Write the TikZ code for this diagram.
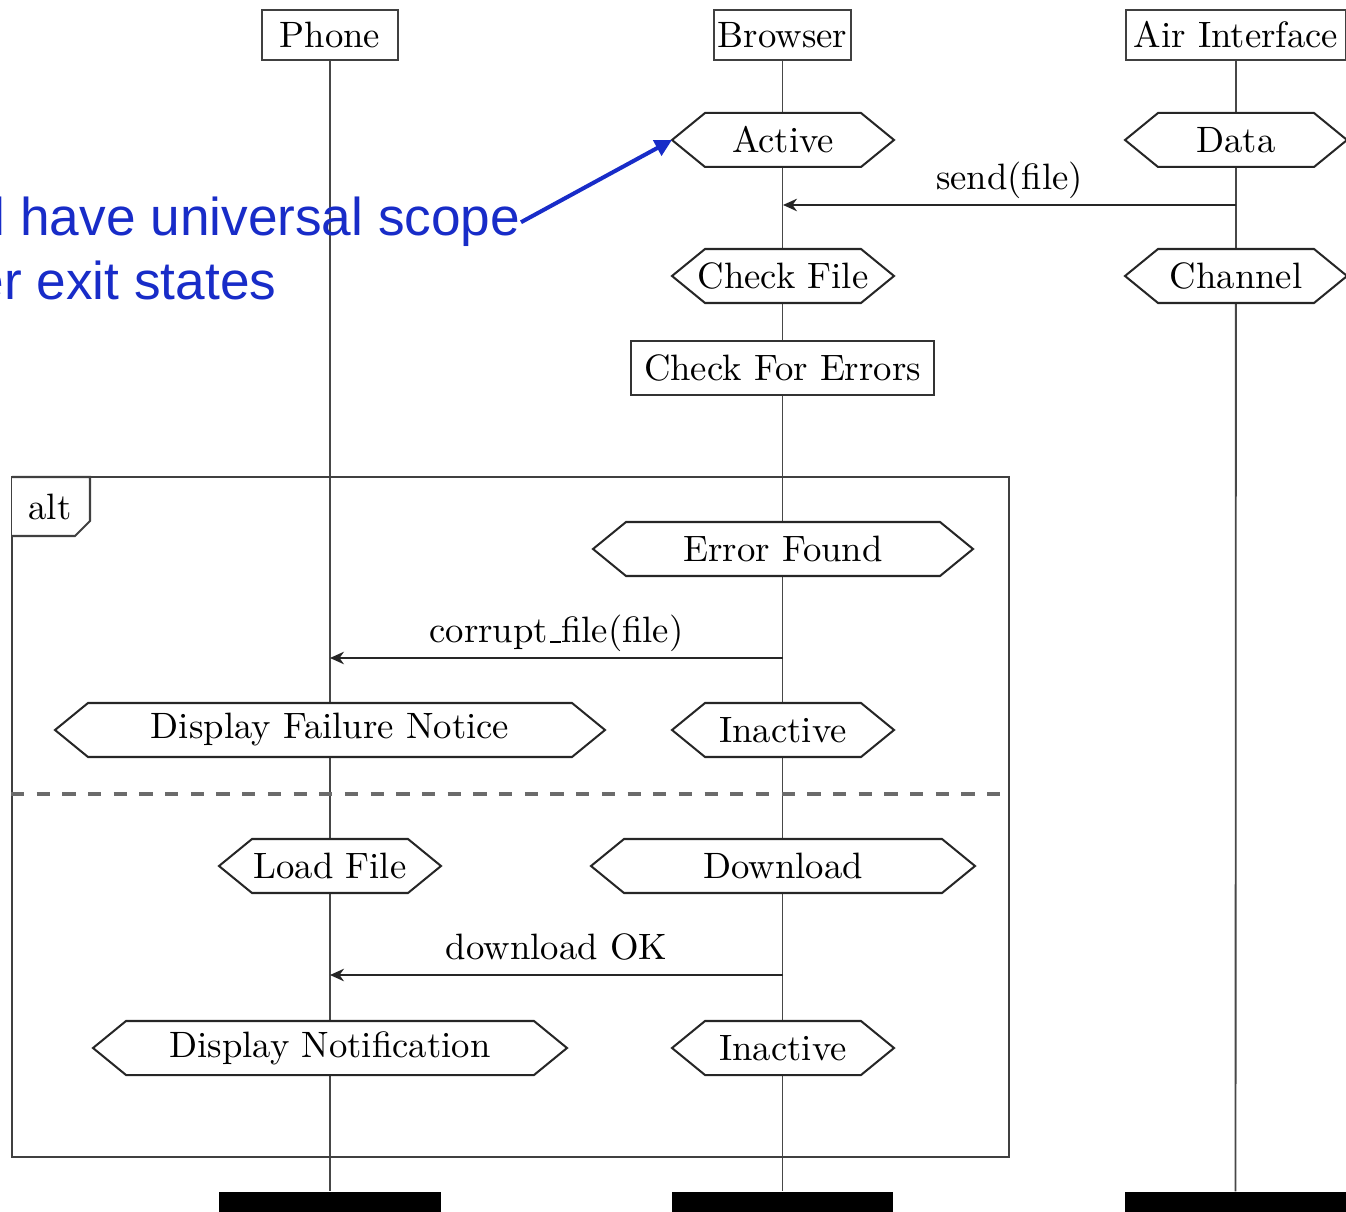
\documentclass[tikz,border=0pt]{standalone}
\usepackage{fontspec}
\newfontfamily\notefont{Liberation Sans}
\usetikzlibrary{arrows.meta,calc}
\definecolor{noteblue}{RGB}{24,44,200}
% one drawing unit in points
\def\upx{0.2725pt}
% short low underscore, as in the classic text fonts
\newcommand\lowbar{\leavevmode\kern.06em\vbox{\hrule width.3em height.4pt}}
% state hexagon: name, x, y, half width, text
\newcommand\hexstate[5]{%
  \draw[hexline] ({#2-#4},#3) -- ({#2-#4+33},{#3-27}) -- ({#2+#4-33},{#3-27})
    -- ({#2+#4},#3) -- ({#2+#4-33},{#3+27}) -- ({#2-#4+33},{#3+27}) -- cycle;
  \node[hexbox,minimum width={2*#4*\upx}] (#1) at (#2,#3) {#5};}
\begin{document}
\begin{tikzpicture}[x=\upx,y=-\upx,
  thread/.style={draw=black!75,line width=0.55pt,fill=white,rectangle,
    inner sep=0pt,minimum height={50*\upx}},
  threadend/.style={fill=black,rectangle,inner sep=0pt,
    minimum height={40*\upx}},
  lifeline/.style={draw=black!72,line width=0.5pt},
  hexline/.style={draw=black!85,line width=0.55pt,fill=white},
  hexbox/.style={rectangle,inner sep=0pt,outer sep=0pt,minimum height={54*\upx}},
  callbox/.style={draw=black!80,line width=0.55pt,fill=white,rectangle,
    inner sep=0pt,minimum width={303*\upx},minimum height={54*\upx}},
  msg/.style={draw=black!85,line width=0.55pt,
    -{Stealth[length=3.8pt,width=3.4pt,inset=1.2pt]}},
  msglabel/.style={midway,anchor=base,yshift=4.1pt,inner sep=0pt},
  frame/.style={draw=black!75,line width=0.55pt},
  altsep/.style={draw=black!58,line width=1pt,dash pattern=on 3.6pt off 3.4pt},
  notetext/.style={text=noteblue,inner sep=0pt,
    font=\notefont\fontsize{14.5pt}{17pt}\selectfont},
  notearrow/.style={draw=noteblue,line width=1.1pt,
    -{Triangle[length=4.6pt,width=4.6pt]}}]
\useasboundingbox (0,0) rectangle (1346,1212);
\clip (0,0) rectangle (1346,1212);

% participants and their end bars
\node[thread,minimum width={136*\upx}] (phone) at (330,35) {Phone};
\node[thread,minimum width={137*\upx}] (browser) at (782.5,35) {Browser};
\node[thread,minimum width={220*\upx}] (air) at (1236,35) {Air Interface};
\node[threadend,minimum width={222*\upx}] (phoneend) at (330,1212) {};
\node[threadend,minimum width={221*\upx}] (browserend) at (782.5,1212) {};
\node[threadend,minimum width={221*\upx}] (airend) at (1235.5,1212) {};

% lifelines
\draw[lifeline] (phone) -- (phoneend);
\draw[lifeline] (browser) -- (browserend);
\draw[lifeline] (air) -- (airend);

% alt fragment
\node[frame,rectangle,inner sep=0pt,minimum width={997*\upx},
  minimum height={680*\upx}] (altframe) at (510.5,817) {};
\draw[frame,fill=white] (12,477) -- (90,477) -- (90,521) -- (75,536) -- (12,536);
\node[inner sep=0pt] (altlabel) at (50,507) {alt};
\draw[altsep] (altframe.west |- 0,794) -- (altframe.east |- 0,794);

% states before the fragment
\hexstate{active}{783}{140}{111}{Active}
\hexstate{data}{1236}{140}{111}{Data}
\hexstate{checkfile}{783}{276}{111}{Check File}
\hexstate{channel}{1236}{276}{111}{Channel}
\node[callbox] (checkerr) at (782.5,368) {Check For Errors};

% first operand
\hexstate{errfound}{783}{549}{190}{Error Found}
\hexstate{failnotice}{330}{730}{275}{Display Failure Notice}
\hexstate{inactiveA}{783}{730}{111}{Inactive}

% second operand
\hexstate{loadfile}{330}{866}{111}{Load File}
\hexstate{download}{783}{866}{192}{Download}
\hexstate{notify}{330}{1048}{237}{Display Notification}
\hexstate{inactiveB}{783}{1048}{111}{Inactive}

% messages
\coordinate (sendfrom) at (1236,205);
\coordinate (sendto) at (783,205);
\draw[msg] (sendfrom) -- node[msglabel] {send(file)} (sendto);
\coordinate (corruptfrom) at (783,658);
\coordinate (corruptto) at (330,658);
\draw[msg] (corruptfrom) -- node[msglabel] {corrupt\lowbar file(file)} (corruptto);
\coordinate (okfrom) at (783,975);
\coordinate (okto) at (330,975);
\draw[msg] (okfrom) -- node[msglabel] {download OK} (okto);

% annotation
\node[notetext,anchor=base east] (note1) at (521,236) {will have universal scope};
\node[notetext,anchor=base east] (note2) at (277,300) {enter exit states};
\draw[notearrow] (note1.east) -- (active.west);
\end{tikzpicture}
\end{document}
